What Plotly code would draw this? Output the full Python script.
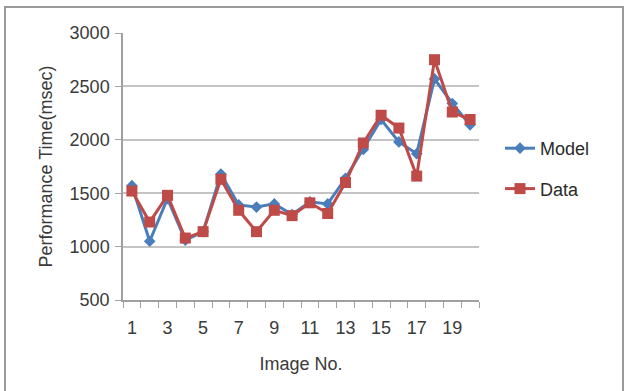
import plotly.graph_objects as go

images = list(range(1, 21))
model = [1570, 1050, 1450, 1060, 1140, 1680, 1390, 1370, 1400, 1300,
         1420, 1400, 1640, 1910, 2190, 1980, 1870, 2570, 2340, 2140]
data = [1520, 1230, 1480, 1080, 1140, 1630, 1340, 1140, 1340, 1290,
        1410, 1310, 1600, 1970, 2230, 2110, 1660, 2750, 2260, 2190]
x_ticks = [1, 3, 5, 7, 9, 11, 13, 15, 17, 19]
y_ticks = [500, 1000, 1500, 2000, 2500, 3000]

FONT = "Liberation Sans, Arial, sans-serif"
BLUE = "#4a7ebb"
RED = "#be4b48"

fig = go.Figure()
fig.add_trace(go.Scatter(
    x=images, y=model, name="Model", mode="lines+markers",
    line=dict(color=BLUE, width=3),
    marker=dict(symbol="diamond", size=9, color=BLUE),
    legendgroup="a"))
fig.add_trace(go.Scatter(
    x=images, y=data, name="Data", mode="lines+markers",
    line=dict(color=RED, width=3),
    marker=dict(symbol="square", size=11, color=RED),
    legendgroup="b"))

L, R, T, B = 123, 154, 33, 91
W, H = 633, 391
pw, ph = W - L - R, H - T - B

def px_x(p):
    return (p - L) / pw

def px_y(p):
    return (H - B - p) / ph

fig.update_layout(
    width=W, height=H,
    margin=dict(l=L, r=R, t=T, b=B, pad=0),
    paper_bgcolor="white", plot_bgcolor="white",
    font=dict(family=FONT, size=18, color="#3a3a3a"),
    showlegend=True,
    legend=dict(x=px_x(500), y=px_y(130), xanchor="left", yanchor="top",
                font=dict(size=18, color="#2a2a2a"),
                traceorder="grouped", tracegroupgap=14,
                bgcolor="rgba(0,0,0,0)"),
    xaxis=dict(range=[0.5, 20.5], tickmode="array", tickvals=x_ticks,
               ticktext=[str(v) for v in x_ticks], ticks="", showgrid=False,
               showline=True, linecolor="#a0a0a0", linewidth=1.5,
               zeroline=False,
               minor=dict(tickmode="array", tickvals=[i + 0.5 for i in range(0, 21)],
                          ticks="outside", ticklen=6, tickcolor="#a0a0a0", showgrid=False),
               ticklabelstandoff=11,
               title=dict(text="Image No.", font=dict(size=18), standoff=20),
               tickfont=dict(size=18)),
    yaxis=dict(range=[500, 3000], tickmode="array", tickvals=y_ticks,
               ticks="outside", ticklen=6, tickcolor="#a0a0a0",
               showgrid=True, gridcolor="#c4c4c4", gridwidth=1.5,
               showline=True, linecolor="#a0a0a0", linewidth=1.5,
               zeroline=False, ticklabelstandoff=2,
               title=dict(text="Performance Time(msec)", font=dict(size=18), standoff=12),
               tickfont=dict(size=18)),
    shapes=[dict(type="rect", xref="paper", yref="paper",
                 x0=px_x(5), x1=px_x(623), y0=px_y(400), y1=px_y(7),
                 line=dict(color="#9a9a9a", width=2), fillcolor="rgba(0,0,0,0)",
                 layer="below")],
)

fig.write_html("out.html")
